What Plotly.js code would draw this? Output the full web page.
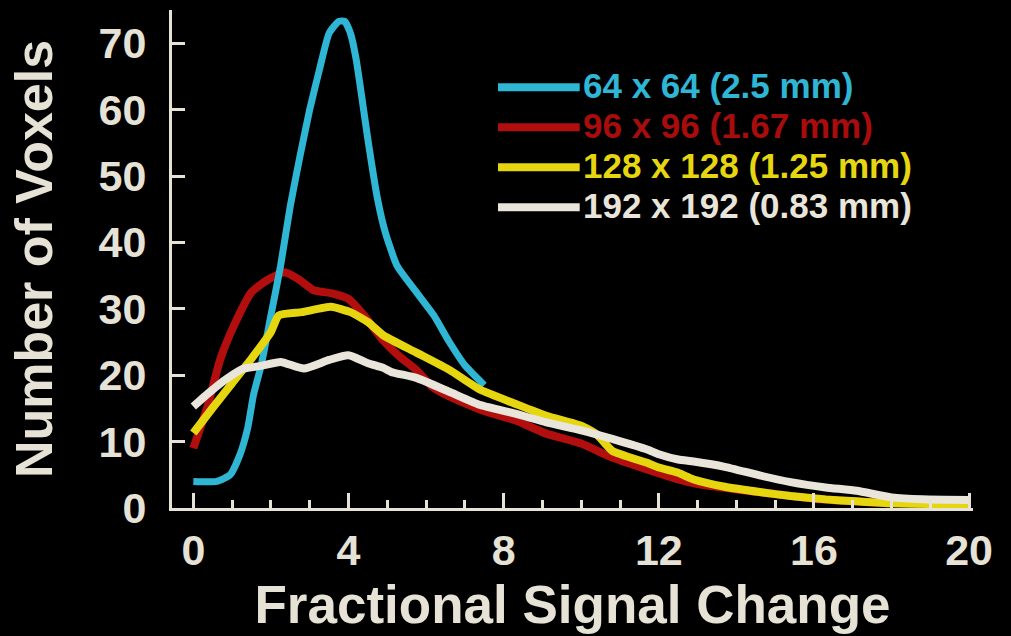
<!DOCTYPE html>
<html>
<head>
<meta charset="utf-8">
<script src="https://cdn.plot.ly/plotly-3.0.1.min.js"></script>
<style>
html,body{margin:0;padding:0;background:#000;}
#chart{width:1011px;height:636px;}
</style>
</head>
<body>
<div id="chart"></div>
<script>
// ---- data ----
const seriesNames = ["64 x 64 (2.5 mm)", "96 x 96 (1.67 mm)", "128 x 128 (1.25 mm)", "192 x 192 (0.83 mm)"];
const seriesColors = ["#2fb6d4", "#b20e0e", "#e6d610", "#e9e5da"];

const x64 = [0, 0.6, 0.95, 1.2, 1.4, 1.55, 1.75, 2.0, 2.25, 2.5, 2.75, 3.0, 3.25, 3.5, 3.75, 3.9, 4.05, 4.2, 4.35, 4.5, 4.75, 4.95, 5.25, 5.75, 6.2, 6.6, 7.0, 7.5];
const y64 = [4, 4, 5, 8, 12, 17, 21.5, 29, 36.5, 45.5, 53, 60, 66, 71.5, 73.3, 73.3, 71.5, 67.5, 61.6, 55.5, 46.5, 41.5, 36.5, 32.5, 29, 25, 21.5, 18.5];

const x96 = [0, 0.35, 0.7, 1.05, 1.5, 1.9, 2.35, 2.7, 3.1, 3.6, 4.0, 4.4, 4.9, 5.3, 5.75, 6.15, 6.6, 7.4, 8.3, 9.1, 10.0, 10.8, 11.7, 12.5, 13.0, 14.0, 15.0, 16.0, 17.0, 18.0];
const y96 = [9, 15, 22.5, 27.5, 32.5, 34.3, 35.5, 34.5, 32.8, 32.3, 31.5, 29, 25.2, 22.9, 20.8, 18.3, 16.8, 14.8, 13.2, 11.2, 9.7, 7.6, 5.8, 4.3, 3.6, 2.8, 2.1, 1.4, 1.0, 0.7];

const x128 = [0, 0.5, 1.0, 1.5, 2.0, 2.2, 2.8, 3.55, 4.05, 4.5, 4.9, 5.75, 6.6, 7.4, 8.3, 9.1, 10.0, 10.4, 10.8, 11.7, 12.0, 12.5, 12.9, 13.7, 14.6, 15.4, 16.3, 17.1, 18.0, 19.0, 20.0];
const y128 = [11.3, 15.1, 18.8, 22.5, 26.5, 29.0, 29.5, 30.3, 29.5, 28.0, 26.0, 23.4, 20.8, 17.8, 15.7, 13.9, 12.4, 11.1, 8.6, 6.8, 6.1, 5.3, 4.3, 3.2, 2.4, 1.8, 1.3, 1.0, 0.7, 0.6, 0.6];

const x192 = [0, 0.43, 0.87, 1.3, 1.75, 2.25, 2.85, 3.5, 4.0, 4.5, 4.9, 5.1, 5.75, 6.6, 7.4, 8.3, 9.1, 10.0, 10.8, 11.7, 12.0, 12.5, 12.9, 13.7, 14.6, 15.4, 16.3, 17.1, 18.0, 18.8, 20.0];
const y192 = [15.3, 17.5, 19.5, 21.0, 21.4, 22.0, 21.0, 22.3, 23.0, 21.8, 21.1, 20.5, 19.6, 17.5, 15.5, 14.2, 12.9, 11.7, 10.4, 8.8, 8.1, 7.3, 7.0, 6.2, 4.9, 3.9, 3.1, 2.6, 1.6, 1.3, 1.2];

const xTickVals = [0, 4, 8, 12, 16, 20];
const yTickVals = [0, 10, 20, 30, 40, 50, 60, 70];
const xTitle = "Fractional Signal Change";
const yTitle = "Number of Voxels";

// ---- build ----
const xs = [x64, x96, x128, x192];
const ys = [y64, y96, y128, y192];
const drawOrder = [1, 0, 2, 3]; // red under blue, then yellow, white on top
const axisColor = "#e6e2d6";
const fam = "Liberation Sans, Arial, Helvetica, sans-serif";

const traces = drawOrder.map(i => ({
  type: "scatter", mode: "lines",
  x: xs[i], y: ys[i], name: seriesNames[i],
  line: {color: seriesColors[i], width: i === 0 ? 7 : 8, shape: "spline", smoothing: 0.5},
  showlegend: false, hoverinfo: "skip"
}));

// manual legend (line sample + coloured label)
const legTop = 0.845, legStep = 0.0803, legX0 = 0.407, legX1 = 0.509, legTx = 0.512;
const textColors = ["#2fb6d4", "#a80c0c", "#e6d610", "#e9e5da"];
const shapes = [], annotations = [];
seriesNames.forEach((nm, k) => {
  const yy = legTop - k * legStep;
  shapes.push({type: "line", xref: "paper", yref: "paper", x0: legX0, x1: legX1, y0: yy, y1: yy,
    line: {color: seriesColors[k], width: 8}});
  annotations.push({xref: "paper", yref: "paper", x: legTx, y: yy + 0.004, xanchor: "left", yanchor: "middle",
    text: nm, showarrow: false, borderpad: 0,
    font: {family: fam, size: 35, weight: "bold", color: textColors[k]}});
});

const layout = {
  width: 1011, height: 636,
  paper_bgcolor: "#000", plot_bgcolor: "#000",
  margin: {l: 172, r: 38, t: 10, b: 128},
  showlegend: false,
  xaxis: {
    range: [-0.55, 20.1], showgrid: false, zeroline: false,
    showline: true, linecolor: axisColor, linewidth: 3,
    tickmode: "array", tickvals: xTickVals, ticktext: xTickVals.map(String),
    ticks: "inside", ticklen: 15, tickwidth: 3, tickcolor: axisColor,
    minor: {dtick: 1, tick0: 0, ticks: "inside", ticklen: 8, tickwidth: 3, tickcolor: axisColor, showgrid: false},
    tickfont: {family: fam, size: 43, weight: "bold", color: axisColor},
    ticklabelstandoff: 2,
    title: {text: xTitle, standoff: 14, font: {family: fam, size: 53, weight: "bold", color: axisColor}}
  },
  yaxis: {
    range: [0, 75], showgrid: false, zeroline: false,
    showline: true, linecolor: axisColor, linewidth: 3,
    tickmode: "array", tickvals: yTickVals, ticktext: yTickVals.map(String),
    ticks: "inside", ticklen: 13, tickwidth: 3, tickcolor: axisColor,
    tickfont: {family: fam, size: 43, weight: "bold", color: axisColor},
    ticklabelstandoff: 14,
    title: {text: yTitle, standoff: 30, font: {family: fam, size: 52, weight: "bold", color: axisColor}}
  },
  shapes: shapes,
  annotations: annotations
};

Plotly.newPlot("chart", traces, layout, {displayModeBar: false, staticPlot: true});
</script>
</body>
</html>
